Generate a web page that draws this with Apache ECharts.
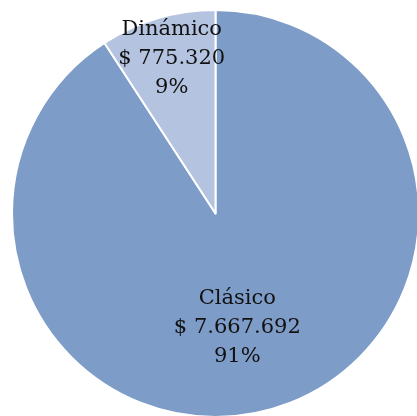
<!DOCTYPE html>
<html><head><meta charset="utf-8">
<script src="https://cdn.jsdelivr.net/npm/echarts@6/dist/echarts.min.js"></script>
<style>html,body{margin:0;padding:0;background:#fff}#c{width:417px;height:416px}</style>
</head><body><div id="c"></div>
<script>
const categories = ['Clásico', 'Dinámico'];
const values = [7667692, 775320];
const percents = ['91%', '9%'];
const valueLabels = ['$ 7.667.692', '$ 775.320'];
const colors = ['#7E9CC8', '#B4C4E0'];

const chart = echarts.init(document.getElementById('c'), null, {renderer: 'canvas'});
const shifts = [[-8, 14], [-14, -55]];
chart.setOption({
  animation: false,
  series: [{
    type: 'pie',
    center: [215.5, 213.5],
    radius: [0, 203.5],
    startAngle: 90,
    clockwise: true,
    itemStyle: {borderColor: '#fff', borderWidth: 2},
    label: {
      show: true,
      position: 'inside',
      fontFamily: 'DejaVu Serif',
      fontSize: 21,
      lineHeight: 29,
      color: '#111',
      align: 'center',
      formatter: p => categories[p.dataIndex] + '\n' + valueLabels[p.dataIndex] + '\n' + percents[p.dataIndex]
    },
    labelLine: {show: false},
    labelLayout: p => ({
      x: p.labelRect.x + p.labelRect.width / 2 + shifts[p.dataIndex][0],
      y: p.labelRect.y + p.labelRect.height / 2 + shifts[p.dataIndex][1],
      align: 'center',
      verticalAlign: 'middle'
    }),
    data: categories.map((c, i) => ({name: c, value: values[i], itemStyle: {color: colors[i]}}))
  }]
});
</script></body></html>
